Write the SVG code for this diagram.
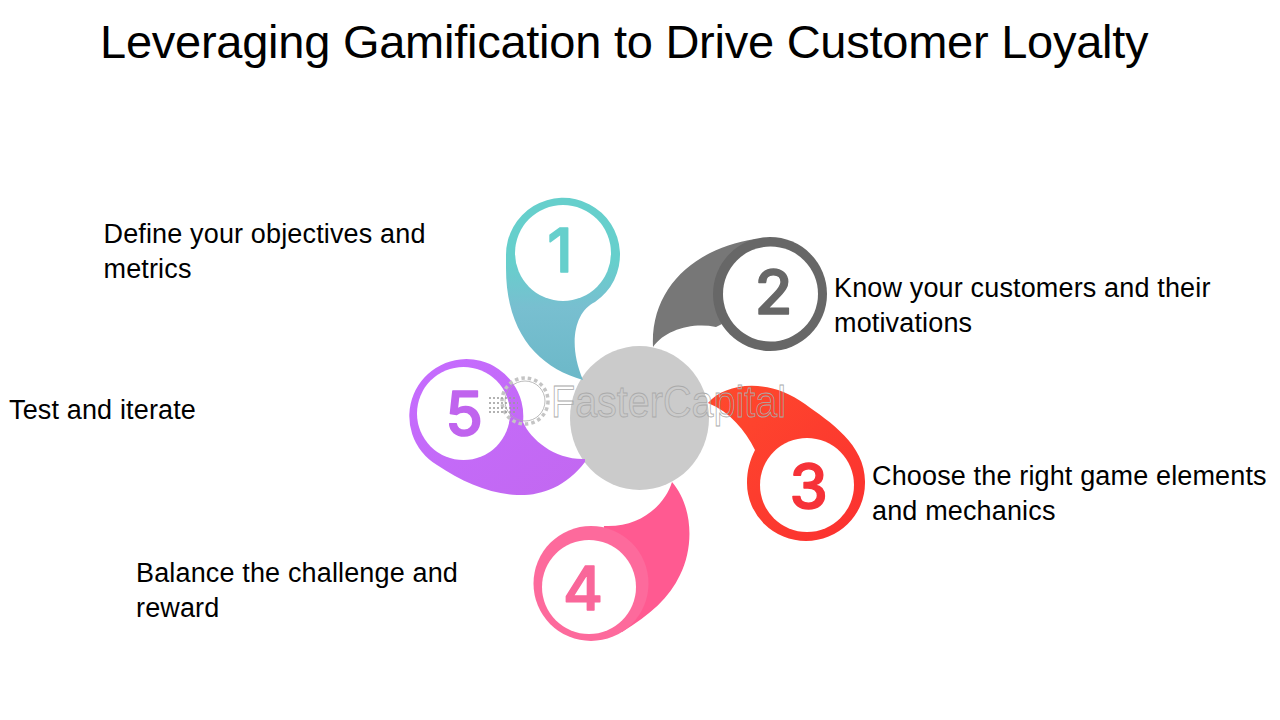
<svg xmlns="http://www.w3.org/2000/svg" width="1280" height="720" viewBox="0 0 1280 720">
<style>
text{font-family:"Liberation Sans",Arial,sans-serif;fill:#000}
.t{font-size:47px;letter-spacing:-.25px}
.l{font-size:27px;letter-spacing:.15px}
.n{font-size:61px;font-weight:500;text-anchor:middle;font-family:"Inter","Liberation Sans",sans-serif;stroke-width:1.500;stroke-linejoin:round}
.in{fill:#fff}
.wm{fill:none;stroke:#aaa;stroke-width:.8}
</style>
<defs>
<linearGradient id="g1" x1="0" y1="0" x2="0" y2="1"><stop offset="0" stop-color="#66cfcc"/><stop offset=".35" stop-color="#66cfcc"/><stop offset=".6" stop-color="#78bfd0"/><stop offset="1" stop-color="#6cb8c8"/></linearGradient>
<linearGradient id="g3" x1="0" y1="0" x2="1" y2="1"><stop offset="0" stop-color="#ff4a2c"/><stop offset="1" stop-color="#fb3030"/></linearGradient>
<linearGradient id="g5" x1="0" y1="0" x2="1" y2="1"><stop offset="0" stop-color="#c56cff"/><stop offset="1" stop-color="#c268f0"/></linearGradient>
</defs>
<rect width="1280" height="720" fill="#fff"/>
<text class="t" x="100" y="57.500" id="title">Leveraging Gamification to Drive Customer Loyalty</text>
<g id="connectors"/>
<g id="hub"><ellipse cx="639.500" cy="418" rx="69.500" ry="72" fill="#cbcbcb"/></g>
<g id="node1">
<path fill="url(#g1)" d="M583 380C540 368 506 335 506 268V255A57 57 0 1 1 595 302C574 312 568 345 583 380Z"/>
<circle class="in" cx="563" cy="253" r="48"/>
<text class="n" x="560" y="272" style="fill:#66cfcc;stroke:#66cfcc">1</text>
<text class="l" x="103.500" y="243">Define your objectives and</text>
<text class="l" x="103.500" y="278">metrics</text>
</g>
<g id="node2">
<path fill="#777" d="M653 347C650 288 695 248 755 239L770 300L716 327C692 322 665 330 653 347Z"/>
<circle cx="770" cy="294" r="57" fill="#676767"/>
<circle class="in" cx="770.500" cy="294" r="47.500"/>
<text class="n" x="773.500" y="314" style="fill:#676767;stroke:#676767">2</text>
<text class="l" x="834" y="297">Know your customers and their</text>
<text class="l" x="834" y="332">motivations</text>
</g>
<g id="node3">
<path fill="url(#g3)" d="M708 403C725 383 768 377 805 404C830 422 866 445 865 483A59 58 0 0 1 747 483C747 470 750 460 755 450C745 430 730 412 708 403Z"/>
<circle class="in" cx="807" cy="485" r="47"/>
<text class="n" x="808.500" y="508" style="fill:#f63238;stroke:#f63238">3</text>
<text class="l" x="872" y="485">Choose the right game elements</text>
<text class="l" x="872" y="520">and mechanics</text>
</g>
<g id="node4">
<path fill="#ff5a91" d="M672 482C692 505 695 545 680 575C670 597 650 615 622 632L600 560L604 526C640 528 665 505 672 482Z"/>
<circle cx="591" cy="583.500" r="57.500" fill="#fd6a9c"/>
<circle class="in" cx="589" cy="587" r="47"/>
<text class="n" x="583" y="610" style="fill:#f9679a;stroke:#f9679a">4</text>
<text class="l" x="136" y="582">Balance the challenge and</text>
<text class="l" x="136" y="617">reward</text>
</g>
<g id="node5">
<path fill="url(#g5)" d="M585 462C565 488 540 496 517 495C490 494 462 482 437 465A57 57 0 1 1 523 422C531 440 555 460 585 459Z"/>
<circle class="in" cx="463.500" cy="413.500" r="46.500"/>
<text class="n" x="464" y="435" style="fill:#c064ee;stroke:#c064ee">5</text>
<text class="l" x="9" y="419">Test and iterate</text>
</g>
<g id="watermark">
<circle class="wm" cx="525" cy="401" r="20"/>
<circle cx="525" cy="401" r="23" fill="none" stroke="#c4c4c4" stroke-width="3.500" stroke-dasharray="3.500 3"/>
<path d="M489 398H516M489 403H518M489 408H518M489 412H516" stroke="#999" stroke-width="1.500" stroke-dasharray="2 2" fill="none"/>
<text class="wm" x="551" y="417" font-size="44" textLength="235" lengthAdjust="spacingAndGlyphs" style="fill:none">FasterCapital</text>
</g>
</svg>
